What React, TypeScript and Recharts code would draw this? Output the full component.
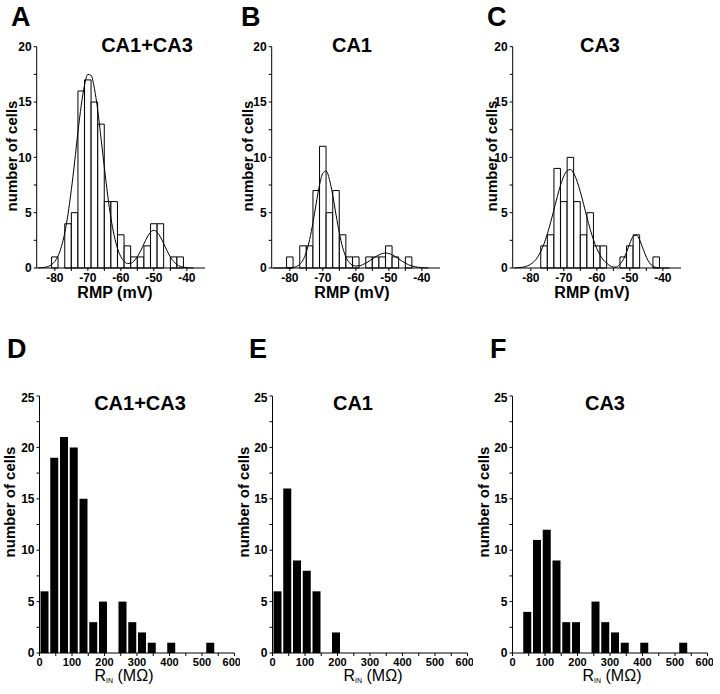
import React from "react";
import { Bar, ComposedChart, Line, XAxis, YAxis } from "recharts";

// resting membrane potential histograms (2 mV bins)
const rmpBins = [-80, -78, -76, -74, -72, -70, -68, -66, -64, -62, -60, -58, -56, -54, -52, -50, -48, -46, -44, -42];
const rmpAll = [1, 0, 4, 5, 16, 17, 15, 13, 6, 6, 3, 2, 1, 1, 2, 4, 4, 0, 1, 1];
const rmpCA1 = [1, 0, 2, 2, 7, 11, 5, 7, 3, 1, 1, 0, 1, 1, 1, 2, 1, 0, 1, 0];
const rmpCA3 = [0, 0, 2, 3, 9, 6, 10, 6, 3, 5, 2, 2, 0, 0, 1, 2, 3, 0, 0, 1];

// fitted curves at 1 mV steps
const fitX = [
  -85, -84, -83, -82, -81, -80, -79, -78, -77, -76, -75, -74, -73, -72, -71, -70, -69, -68, -67, -66, -65, -64, -63, -62,
  -61, -60, -59, -58, -57, -56, -55, -54, -53, -52, -51, -50, -49, -48, -47, -46, -45, -44, -43, -42, -41, -40, -39, -38,
];
const fitAll = [
  0.01, 0.03, 0.06, 0.14, 0.3, 0.6, 1.11, 1.95, 3.17, 4.9, 7.08, 9.6, 12.3, 14.7, 16.55, 17.5, 17.4, 16.2, 14.25, 11.7,
  9.1, 6.6, 4.5, 2.9, 1.75, 1.02, 0.6, 0.41, 0.43, 0.64, 1.02, 1.56, 2.19, 2.8, 3.23, 3.4, 3.23, 2.8, 2.19, 1.56, 1.0,
  0.59, 0.3, 0.15, 0.07, 0.03, 0.01, 0,
];
const fitCA1 = [
  0, 0, 0, 0, 0.01, 0.02, 0.05, 0.13, 0.33, 0.73, 1.45, 2.58, 4.1, 5.87, 7.5, 8.56, 8.76, 8.0, 6.56, 4.8, 3.15, 1.86,
  0.99, 0.49, 0.25, 0.18, 0.2, 0.29, 0.44, 0.62, 0.82, 1.02, 1.19, 1.31, 1.35, 1.31, 1.19, 1.02, 0.82, 0.62, 0.44, 0.29,
  0.18, 0.11, 0.06, 0.03, 0.01, 0,
];
const fitCA3 = [
  0.01, 0.03, 0.05, 0.1, 0.2, 0.35, 0.59, 0.96, 1.49, 2.19, 3.08, 4.13, 5.28, 6.44, 7.49, 8.31, 8.8, 8.9, 8.55, 7.85,
  6.88, 5.75, 4.58, 3.48, 2.53, 1.74, 1.16, 0.72, 0.43, 0.2, 0.08, 0.1, 0.35, 0.75, 1.43, 2.23, 2.85, 2.97, 2.52, 1.74,
  0.98, 0.45, 0.16, 0.05, 0.01, 0, 0, 0,
];

// input resistance histograms (30 MOhm bins)
const rinBins = [15, 45, 75, 105, 135, 165, 195, 225, 255, 285, 315, 345, 375, 405, 435, 465, 495, 525];
const rinAll = [6, 19, 21, 20, 15, 3, 5, 0, 5, 3, 2, 1, 0, 1, 0, 0, 0, 1];
const rinCA1 = [6, 16, 9, 8, 6, 0, 2, 0, 0, 0, 0, 0, 0, 0, 0, 0, 0, 0];
const rinCA3 = [0, 4, 11, 12, 9, 3, 3, 0, 5, 3, 2, 1, 0, 1, 0, 0, 0, 1];

const rmpTicks = [-80, -75, -70, -65, -60, -55, -50, -45, -40];
const rmpYTicks = [0, 2.5, 5, 7.5, 10, 12.5, 15, 17.5, 20];
const rinTicks = [0, 50, 100, 150, 200, 250, 300, 350, 400, 450, 500, 550, 600];
const rinYTicks = [0, 2.5, 5, 7.5, 10, 12.5, 15, 17.5, 20, 22.5, 25];

const FONT = "'Liberation Sans', Arial, sans-serif";
const tickStyle = { fill: "#000", fontSize: 12, fontWeight: 700, fontFamily: FONT };
const every = (step: number) => (v: number) => (Math.abs(v % step) < 1e-9 ? String(v) : "");
const RMP_DOMAIN: [number, number] = [-85.5, -34.5];

function RmpPanel({ left, counts, fit }: { left: number; counts: number[]; fit: number[] }) {
  const data = rmpBins.map((x, i) => ({ x, n: counts[i] }));
  const curve = fitX.map((x, i) => ({ x, y: fit[i] }));
  return (
    <div style={{ position: "absolute", left, top: 0 }}>
      <ComposedChart width={230} height={310} data={data} margin={{ top: 46.7, right: 25, bottom: 12, left: 6.7 }}>
        <XAxis
          dataKey="x"
          type="number"
          domain={RMP_DOMAIN}
          allowDataOverflow
          ticks={rmpTicks}
          tickFormatter={every(10)}
          tick={tickStyle}
          tickSize={3}
          height={30}
          axisLine={{ stroke: "#000" }}
          tickLine={{ stroke: "#000" }}
        />
        <XAxis xAxisId="fit" dataKey="x" type="number" domain={RMP_DOMAIN} allowDataOverflow hide />
        <YAxis
          type="number"
          domain={[0, 20]}
          ticks={rmpYTicks}
          tickFormatter={every(5)}
          tick={tickStyle}
          tickSize={3}
          width={30}
          axisLine={{ stroke: "#000" }}
          tickLine={{ stroke: "#000" }}
        />
        <Bar dataKey="n" fill="#fff" stroke="#000" strokeWidth={1} barSize={6.5} isAnimationActive={false} />
        <Line
          xAxisId="fit"
          data={curve}
          dataKey="y"
          type="monotone"
          stroke="#000"
          strokeWidth={1}
          dot={false}
          activeDot={false}
          isAnimationActive={false}
        />
      </ComposedChart>
    </div>
  );
}

function RinPanel({ left, counts }: { left: number; counts: number[] }) {
  const data = rinBins.map((x, i) => ({ x, n: counts[i] }));
  return (
    <div style={{ position: "absolute", left, top: 390 }}>
      <ComposedChart width={240} height={300} data={data} margin={{ top: 6, right: 5.5, bottom: 12, left: 9.5 }}>
        <XAxis
          dataKey="x"
          type="number"
          domain={[0, 600]}
          ticks={rinTicks}
          tickFormatter={every(100)}
          tick={{ ...tickStyle, fontSize: 11 }}
          tickSize={3}
          height={25}
          axisLine={{ stroke: "#000" }}
          tickLine={{ stroke: "#000" }}
        />
        <YAxis
          type="number"
          domain={[0, 25]}
          ticks={rinYTicks}
          tickFormatter={every(5)}
          tick={tickStyle}
          tickSize={3}
          width={30}
          axisLine={{ stroke: "#000" }}
          tickLine={{ stroke: "#000" }}
        />
        <Bar dataKey="n" fill="#000" barSize={8} isAnimationActive={false} />
      </ComposedChart>
    </div>
  );
}

const letters = [
  { t: "A", x: 11, y: 26 },
  { t: "B", x: 241, y: 26 },
  { t: "C", x: 487, y: 26 },
  { t: "D", x: 7, y: 358 },
  { t: "E", x: 249, y: 358 },
  { t: "F", x: 490, y: 358 },
];
const titles = [
  { t: "CA1+CA3", x: 147, y: 52 },
  { t: "CA1", x: 352, y: 52 },
  { t: "CA3", x: 600, y: 52 },
  { t: "CA1+CA3", x: 140, y: 410 },
  { t: "CA1", x: 353, y: 410 },
  { t: "CA3", x: 605, y: 410 },
];
const yLabels = [
  { x: 11, y: 156 },
  { x: 247, y: 156 },
  { x: 491, y: 156 },
  { x: 9, y: 502 },
  { x: 243, y: 502 },
  { x: 483, y: 502 },
];
const rmpLabelX = [115, 352, 592];
const rinLabelX = [124, 373, 612];

export default function App() {
  return (
    <div style={{ position: "absolute", left: 0, top: 0, width: 720, height: 694, background: "#fff", fontFamily: FONT }}>
      <RmpPanel left={0} counts={rmpAll} fit={fitAll} />
      <RmpPanel left={235} counts={rmpCA1} fit={fitCA1} />
      <RmpPanel left={476} counts={rmpCA3} fit={fitCA3} />
      <RinPanel left={0} counts={rinAll} />
      <RinPanel left={233} counts={rinCA1} />
      <RinPanel left={473} counts={rinCA3} />
      <svg
        width={720}
        height={694}
        style={{ position: "absolute", left: 0, top: 0, pointerEvents: "none" }}
        fontFamily={FONT}
      >
        {letters.map((d) => (
          <text key={d.t} x={d.x} y={d.y} fontSize={27} fontWeight={700} fill="#000">
            {d.t}
          </text>
        ))}
        {titles.map((d, i) => (
          <text key={i} x={d.x} y={d.y} fontSize={20} fontWeight={700} textAnchor="middle" fill="#000">
            {d.t}
          </text>
        ))}
        {yLabels.map((d, i) => (
          <text
            key={i}
            x={d.x}
            y={d.y}
            transform={`rotate(-90 ${d.x} ${d.y})`}
            fontSize={15}
            fontWeight={700}
            textAnchor="middle"
            dominantBaseline="central"
            fill="#000"
          >
            number of cells
          </text>
        ))}
        {rmpLabelX.map((x, i) => (
          <text key={i} x={x} y={298} fontSize={16} fontWeight={700} textAnchor="middle" fill="#000">
            RMP (mV)
          </text>
        ))}
        {rinLabelX.map((x, i) => (
          <text key={i} x={x} y={681} fontSize={16} textAnchor="middle" fill="#000">
            R
            <tspan fontSize={7} dy={2}>
              IN
            </tspan>
            <tspan dy={-2}> (MΩ)</tspan>
          </text>
        ))}
      </svg>
    </div>
  );
}
